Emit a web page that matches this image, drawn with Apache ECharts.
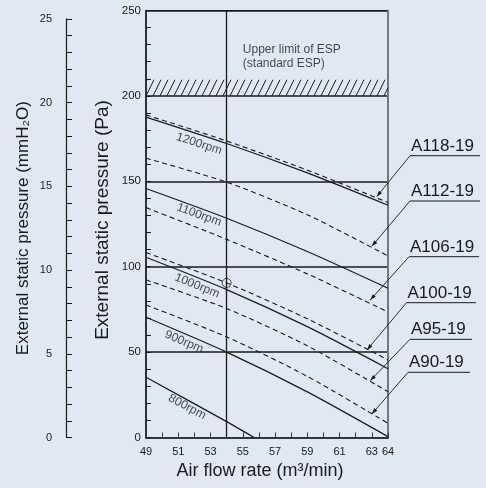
<!DOCTYPE html>
<html>
<head>
<meta charset="utf-8">
<script src="https://cdn.jsdelivr.net/npm/echarts@6/dist/echarts.min.js"></script>
<style>
html,body{margin:0;padding:0;background:#e1e8f4;}
#c{width:486px;height:488px;}
</style>
</head>
<body>
<div id="c"></div>
<script>
// ---------- data ----------
const flowRates = [49, 54, 59, 64];
const rpmNames = ['1200rpm', '1100rpm', '1000rpm', '900rpm', '800rpm'];
const rpm1200 = [187.6, 172.1, 154.9, 136.0];
const rpm1100 = [145.8, 128.4, 108.9, 87.4];
const rpm1000 = [105.5, 86.6, 64.9, 40.3];
const rpm900 = [70.4, 50.0, 26.7, 0.5];
const rpm800Flow = [49, 54, 55.7];
const rpm800 = [35.3, 9.3, 0];

const modelNames = ['A118-19', 'A112-19', 'A106-19', 'A100-19', 'A95-19', 'A90-19'];
const modelA118 = [188.9, 173.6, 156.5, 137.6];
const modelA112 = [163.5, 149.5, 130.4, 106.3];
const modelA106 = [134.6, 116.0, 95.8, 73.5];
const modelA100 = [108.3, 90.5, 69.5, 45.4];
const modelA95 = [92.3, 75.5, 53.7, 26.8];
const modelA90 = [77.6, 58.9, 35.8, 8.3];

const ratedPoint = [54, 90.5];
const refFlow = 54;
const espLimitBand = [200, 209.5];
const xTickLabels = [49, 51, 53, 55, 57, 59, 61, 63, 64];
const paTicks = [0, 50, 100, 150, 200, 250];
const mmTicks = [0, 5, 10, 15, 20, 25];
const PA_PER_MMH2O = 9.80665;

// annotation anchors (data coordinates)
const rpmLabelAnchor = [[52.29, 171.9], [52.29, 130.3], [52.17, 88.8], [51.36, 55.9], [51.55, 17.9]];
const rpmLabelAngle = [-18, -20, -22, -23, -28];
const modelTipFlow = [63.3, 63.0, 62.9, 62.7, 62.9, 63.0];
const modelTipPressure = [141.0, 112.0, 80.5, 51.3, 33.3, 13.8];
const espNoteAnchor = [55.0, 222.7];

// ---------- layout ----------
const FONT = "'Liberation Sans', Arial, Helvetica, sans-serif";
const INK = '#1a1a1a';
const BG = '#e1e8f4';
const plot = { left: 146, top: 10.5, width: 242, height: 427 };
const mmTop = plot.top + plot.height - 25 * PA_PER_MMH2O * plot.height / 250;
const labelLayout = {
  left: [410, 410, 409, 406.5, 410, 408],
  right: [480, 480, 479, 476, 472, 470],
  y: [155.7, 201, 256.7, 302.7, 339.3, 372.3]
};

const chart = echarts.init(document.getElementById('c'), null, { renderer: 'canvas' });

function zip(xs, ys) { return xs.map((x, i) => [x, ys[i]]); }

const solidStyle = { color: INK, width: 1.2, type: 'solid' };
const dashStyle = { color: INK, width: 1.1, type: [5, 3.5] };

function lineSeries(name, xs, ys, style) {
  return {
    type: 'line', name: name, xAxisIndex: 0, yAxisIndex: 0,
    data: zip(xs, ys), showSymbol: false, symbol: 'none',
    smooth: 0.25, lineStyle: style, silent: true, z: 3
  };
}

const series = [
  lineSeries('1200rpm', flowRates, rpm1200, solidStyle),
  lineSeries('1100rpm', flowRates, rpm1100, solidStyle),
  lineSeries('1000rpm', flowRates, rpm1000, solidStyle),
  lineSeries('900rpm', flowRates, rpm900, solidStyle),
  lineSeries('800rpm', rpm800Flow, rpm800, solidStyle),
  lineSeries('A118-19', flowRates, modelA118, dashStyle),
  lineSeries('A112-19', flowRates, modelA112, dashStyle),
  lineSeries('A106-19', flowRates, modelA106, dashStyle),
  lineSeries('A100-19', flowRates, modelA100, dashStyle),
  lineSeries('A95-19', flowRates, modelA95, dashStyle),
  lineSeries('A90-19', flowRates, modelA90, dashStyle),
  {
    // hatched band (upper limit of ESP)
    type: 'custom', xAxisIndex: 0, yAxisIndex: 0, silent: true, z: 2,
    data: [[49, espLimitBand[0], 64, espLimitBand[1]]],
    renderItem: function (params, api) {
      const p0 = api.coord([api.value(0), api.value(1)]);
      const p1 = api.coord([api.value(2), api.value(3)]);
      const x0 = p0[0], x1 = p1[0], yb = p0[1], yt = p1[1];
      const h = yb - yt, dx = 8, step = 7;
      const children = [];
      for (let bx = x0 - dx + 1; bx < x1; bx += step) {
        const t0 = Math.max(0, (x0 - bx) / dx);
        const t1 = Math.min(1, (x1 - bx) / dx);
        if (t1 <= t0) continue;
        children.push({
          type: 'line',
          shape: { x1: bx + t0 * dx, y1: yb - t0 * h, x2: bx + t1 * dx, y2: yb - t1 * h },
          style: { stroke: INK, lineWidth: 1 }
        });
      }
      return { type: 'group', children: children };
    }
  },
  {
    type: 'scatter', xAxisIndex: 0, yAxisIndex: 0, z: 5, silent: true,
    data: [ratedPoint], symbol: 'circle', symbolSize: 9,
    itemStyle: { color: 'rgba(0,0,0,0)', borderColor: INK, borderWidth: 1 },
    markLine: {
      silent: true, symbol: 'none', animation: false,
      label: { show: false },
      lineStyle: { color: INK, width: 1.3, type: 'solid' },
      data: [{ xAxis: refFlow }]
    }
  },
  {
    type: 'scatter', xAxisIndex: 0, yAxisIndex: 0, z: 6, silent: true,
    symbolSize: 0,
    data: rpmNames.map((n, i) => ({
      name: n, value: rpmLabelAnchor[i],
      label: { rotate: rpmLabelAngle[i] }
    })),
    label: {
      show: true, position: 'inside', formatter: '{b}',
      fontFamily: FONT, fontSize: 12, color: INK
    }
  },
  {
    type: 'scatter', xAxisIndex: 0, yAxisIndex: 0, z: 6, silent: true,
    symbolSize: 0,
    data: [{ name: 'Upper limit of ESP\n(standard ESP)', value: espNoteAnchor }],
    label: {
      show: true, position: 'inside', formatter: '{b}', align: 'left',
      verticalAlign: 'middle', lineHeight: 14,
      fontFamily: FONT, fontSize: 12, color: INK
    }
  },
  {
    type: 'scatter', xAxisIndex: 1, yAxisIndex: 2, data: [], silent: true
  }
];

const option = {
  backgroundColor: BG,
  animation: false,
  textStyle: { fontFamily: FONT },
  grid: [
    { left: plot.left, top: plot.top, width: plot.width, height: plot.height,
      show: true, borderColor: INK, borderWidth: 1, backgroundColor: 'transparent' },
    { left: 66, top: mmTop, width: 1, height: plot.top + plot.height - mmTop }
  ],
  xAxis: [
    {
      type: 'value', gridIndex: 0, min: 49, max: 64, interval: 1,
      axisLine: { show: true, lineStyle: { color: '#333', width: 2 } },
      axisTick: { show: true, inside: true, length: 5, lineStyle: { color: '#333', width: 1 } },
      axisLabel: {
        fontSize: 11, color: INK, margin: 9, fontFamily: FONT,
        formatter: v => (xTickLabels.indexOf(v) >= 0 ? String(v) : '')
      },
      splitLine: { show: false },
      name: 'Air flow rate (m³/min)', nameLocation: 'middle', nameGap: 25,
      nameTextStyle: { fontSize: 18, color: INK, fontFamily: FONT, padding: [0, 14, 0, 0] }
    },
    { type: 'value', gridIndex: 1, show: false, min: 0, max: 1 }
  ],
  yAxis: [
    {
      type: 'value', gridIndex: 0, min: 0, max: 250, interval: 50, position: 'left',
      axisLine: { show: true, lineStyle: { color: INK, width: 1.5 } },
      axisTick: { show: true, inside: true, length: 5, lineStyle: { color: INK } },
      minorTick: { show: true, splitNumber: 5, length: 5, lineStyle: { color: INK } },
      axisLabel: {
        fontSize: 11.5, color: INK, margin: 5, fontFamily: FONT,
        formatter: v => (paTicks.indexOf(v) >= 0 ? String(v) : '')
      },
      splitLine: { show: true, lineStyle: { color: INK, width: 1.5 } },
      name: 'External static pressure (Pa)', nameLocation: 'middle', nameGap: 34,
      nameTextStyle: { fontSize: 19, color: INK, fontFamily: FONT, padding: [0, 0, 0, 8] }
    },
    {
      type: 'value', gridIndex: 0, min: 0, max: 250, position: 'right',
      axisLine: { show: true, lineStyle: { color: '#777', width: 2 } },
      axisTick: { show: false }, axisLabel: { show: false }, splitLine: { show: false }
    },
    {
      type: 'value', gridIndex: 1, min: 0, max: 25, interval: 1, position: 'left',
      axisLine: { show: true, lineStyle: { color: INK, width: 1.2 } },
      axisTick: { show: true, inside: true, length: 6, lineStyle: { color: INK } },
      axisLabel: {
        fontSize: 11, color: INK, margin: 14, fontFamily: FONT,
        formatter: v => (mmTicks.indexOf(v) >= 0 ? String(v) : '')
      },
      splitLine: { show: false },
      name: 'External static pressure (mmH₂O)', nameLocation: 'middle', nameGap: 34,
      nameTextStyle: { fontSize: 17, color: INK, fontFamily: FONT }
    }
  ],
  series: series
};

chart.setOption(option);

// ---------- model labels with leader arrows ----------
const graphics = [];
modelNames.forEach((name, i) => {
  const tip = chart.convertToPixel({ gridIndex: 0 }, [modelTipFlow[i], modelTipPressure[i]]);
  const tx = tip[0], ty = tip[1];
  const lx = labelLayout.left[i], rx = labelLayout.right[i], uy = labelLayout.y[i];
  graphics.push({ type: 'line', silent: true, z: 10,
    shape: { x1: lx, y1: uy, x2: rx, y2: uy }, style: { stroke: INK, lineWidth: 1 } });
  graphics.push({ type: 'line', silent: true, z: 10,
    shape: { x1: lx, y1: uy, x2: tx, y2: ty }, style: { stroke: INK, lineWidth: 0.9 } });
  const ang = Math.atan2(ty - uy, tx - lx);
  const L = 6, Wd = 2;
  const bx = tx - L * Math.cos(ang), by = ty - L * Math.sin(ang);
  const px = -Math.sin(ang) * Wd, py = Math.cos(ang) * Wd;
  graphics.push({ type: 'polygon', silent: true, z: 10,
    shape: { points: [[tx, ty], [bx + px, by + py], [bx - px, by - py]] },
    style: { fill: INK } });
  graphics.push({ type: 'text', silent: true, z: 10, x: lx + 1, y: uy - 1,
    style: { text: name, fill: INK, font: '17px ' + FONT,
      textAlign: 'left', textVerticalAlign: 'bottom', align: 'left', verticalAlign: 'bottom' } });
});
chart.setOption({ graphic: graphics });
</script>
</body>
</html>
